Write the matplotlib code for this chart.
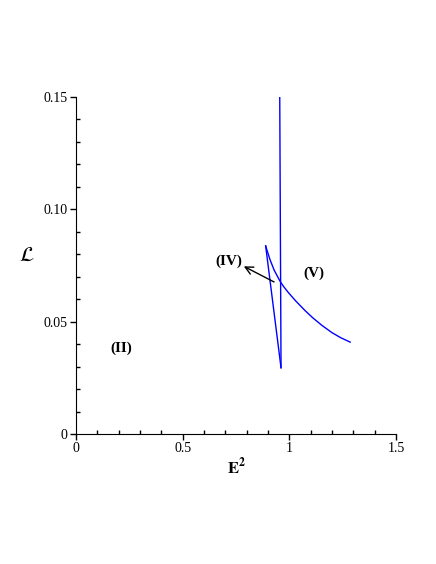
import matplotlib.pyplot as plt
from matplotlib.ticker import MultipleLocator

plt.rcParams['font.family'] = ['Liberation Serif', 'DejaVu Serif']
plt.rcParams['mathtext.fontset'] = 'stix'

# vertical branch
vert_x = [0.955, 0.961]
vert_y = [0.150, 0.0295]

# narrow cusp: bottom point up to the tip
cusp_x = [0.961, 0.889]
cusp_y = [0.0295, 0.0837]

# curved branch from the tip to the right
curve_x = [0.889, 0.909, 0.929, 0.957, 0.975, 0.995, 1.03, 1.074, 1.11, 1.152, 1.20, 1.24, 1.285]
curve_y = [0.0837, 0.0777, 0.0729, 0.0679, 0.0654, 0.0630, 0.0592, 0.0549, 0.0517, 0.0484, 0.0451, 0.0429, 0.0409]

fig = plt.figure(figsize=(4.36, 5.64), dpi=100)
ax = fig.add_axes([0.1743, 0.2305, 0.734, 0.5975])

ax.plot(vert_x, vert_y, color='blue', lw=1)
ax.plot(cusp_x, cusp_y, color='blue', lw=1)
ax.plot(curve_x, curve_y, color='blue', lw=1)

ax.annotate('', xy=(0.775, 0.0752), xytext=(0.94, 0.0671),
            arrowprops=dict(arrowstyle='->', color='black', lw=1, mutation_scale=14))
ax.text(0.715, 0.0770, '(IV)', fontsize=11, fontweight='bold', ha='center', va='center')
ax.text(1.116, 0.0716, '(V)', fontsize=11, fontweight='bold', ha='center', va='center')
ax.text(0.211, 0.0383, '(II)', fontsize=11, fontweight='bold', ha='center', va='center')

ax.set_xlim(0, 1.5)
ax.set_ylim(0, 0.15)
ax.set_xticks([0, 0.5, 1, 1.5])
ax.set_xticklabels(['0', '0.5', '1', '1.5'])
ax.set_yticks([0, 0.05, 0.10, 0.15])
ax.set_yticklabels(['0', '0.05', '0.10', '0.15'])
ax.xaxis.set_minor_locator(MultipleLocator(0.1))
ax.yaxis.set_minor_locator(MultipleLocator(0.01))
ax.tick_params(which='major', direction='out', length=4, width=1, labelsize=10, pad=2)
ax.tick_params(which='minor', direction='in', length=3, width=1)

for s in ['top', 'right']:
    ax.spines[s].set_visible(False)

ax.set_xlabel(r'$\mathbf{E}^{\mathbf{2}}$', fontsize=12, labelpad=1)
ax.set_ylabel(r'$\boldsymbol{\mathcal{L}}$', fontsize=15, rotation=0, labelpad=12)

fig.savefig('out.png', dpi=100)
